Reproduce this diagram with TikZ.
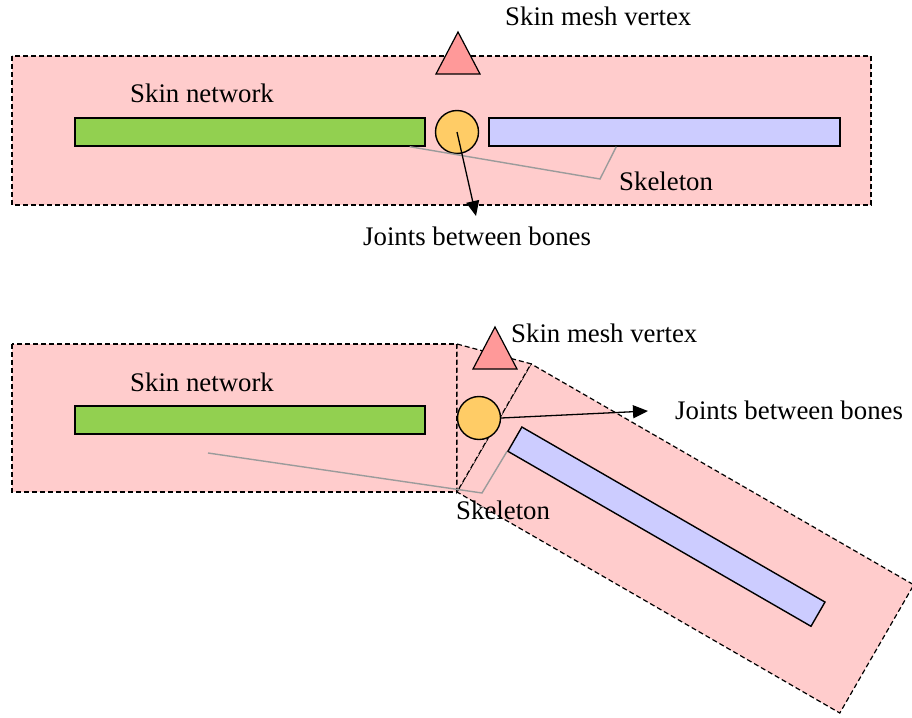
\documentclass[tikz,border=0pt]{standalone}
\usepackage{fontspec}
\setmainfont{Liberation Serif}
\usetikzlibrary{arrows.meta,calc}
\definecolor{skinpink}{RGB}{255,204,204}
\definecolor{vertexred}{RGB}{255,153,153}
\definecolor{bonegreen}{RGB}{146,208,80}
\definecolor{joint}{RGB}{255,204,102}
\definecolor{boneblue}{RGB}{204,204,255}
\definecolor{skelgray}{RGB}{155,155,155}
\tikzset{
  skin/.style={fill=skinpink,draw=black,line width=1.2pt,dash pattern=on 5pt off 3pt},
  bone/.style={draw=black,line width=1.4pt,inner sep=0pt,minimum height=28pt},
  jointnode/.style={circle,draw=black,line width=1.4pt,fill=joint,minimum size=43pt,inner sep=0pt},
  vertex/.style={draw=black,line width=1.2pt,fill=vertexred,line join=miter},
  skelline/.style={draw=skelgray,line width=1.4pt},
  pointer/.style={draw=black,line width=1.3pt,-{Triangle[length=15pt,width=13pt]}},
  lbl/.style={inner sep=0pt,anchor=base west,font=\fontsize{26.8}{32}\selectfont}
}
\begin{document}
\begin{tikzpicture}[x=1pt,y=-1pt]
\useasboundingbox (0,0) rectangle (912,717);
% ---------------- top diagram ----------------
\path[skin] (12,56) rectangle (871,205);
\path[vertex] (458,32) -- (436,74) -- (480,74) -- cycle;
\node[bone,fill=bonegreen,minimum width=350pt] (g1) at (250,132) {};
\node[bone,fill=boneblue,minimum width=351pt] (b1) at (664.5,132) {};
\node[jointnode] (j1) at (457,132) {};
\coordinate (s1a) at ($(g1.south east)+(-16,0)$);
\coordinate (s1b) at (600,179);
\coordinate (s1c) at ($(b1.south west)+(128,0)$);
\draw[skelline] (s1a) -- (s1b) -- (s1c);
\coordinate (a1) at (476,216);
\draw[pointer] (j1.center) -- (a1);
\node[lbl] (t1) at (130,102) {Skin network};
\node[lbl] (t2) at (505,26) {Skin mesh vertex};
\node[lbl] (t3) at (619,190) {Skeleton};
\node[lbl] (t4) at (363,245) {Joints between bones};
% ---------------- bottom diagram ----------------
\coordinate (A) at (457,492);
\coordinate (Lt) at (457,344);
\path[skin] (12,344) rectangle (457,492);
\begin{scope}[shift={(457,492)},rotate=-30]
  \path[skin] (0,0) rectangle (442,-148);
  \coordinate (B) at (0,-148);
  \node[bone,fill=boneblue,minimum width=350pt,transform shape,anchor=south west] (b2) at (23,-60) {};
\end{scope}
\path[skin] (Lt) -- (B) -- (A) -- cycle;
\path[vertex] (495,327) -- (473,369) -- (517,369) -- cycle;
\node[bone,fill=bonegreen,minimum width=350pt] (g2) at (250,420) {};
\coordinate (s2a) at (208,453);
\coordinate (s2b) at (482,493);
\draw[skelline] (s2a) -- (s2b) -- (b2.south west);
\node[jointnode] (j2) at (479,418) {};
\coordinate (a2) at (648,411);
\draw[pointer] (j2.east) -- (a2);
\node[lbl] (t5) at (130,391) {Skin network};
\node[lbl] (t6) at (511,342) {Skin mesh vertex};
\node[lbl] (t7) at (456,519) {Skeleton};
\node[lbl] (t8) at (675,419) {Joints between bones};
\end{tikzpicture}
\end{document}
